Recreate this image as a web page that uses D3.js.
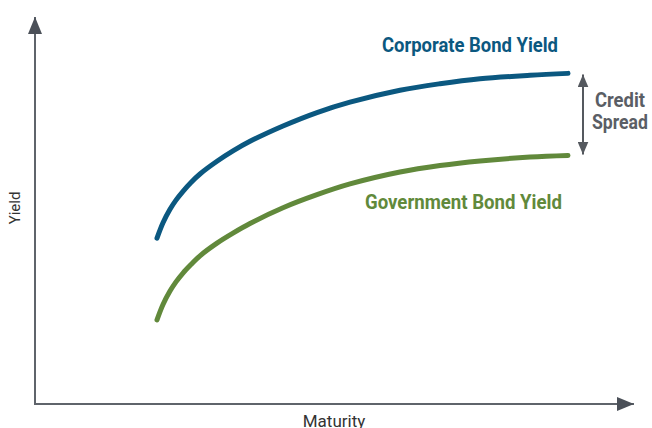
<!DOCTYPE html>
<html lang="en">
<head>
<meta charset="UTF-8">
<title>Credit Spread</title>
<script src="https://d3js.org/d3.v7.min.js"></script>
<style>
    body { margin: 0; background: white; }
    svg { display: block; font-family: Roboto, "Noto Sans", sans-serif; }
    .axis path { stroke: #5f646b; stroke-width: 2; }
    .lbl { font-weight: 700; }
</style>
</head>
<body>
<div id="chart"></div>
<script>
    // maturity (years) and yields (%)
    const maturity = [6.10, 6.40, 6.75, 7.05, 7.40, 7.80, 8.25, 9.10, 9.90, 10.75,
                      12.40, 14.10, 15.75, 18.25, 20.25, 22.25, 24.75, 26.65];
    const corporateYield = [4.32, 4.72, 5.07, 5.31, 5.54, 5.77, 5.99, 6.32, 6.59, 6.84,
                            7.24, 7.59, 7.86, 8.17, 8.34, 8.47, 8.56, 8.61];
    const governmentYield = [2.19, 2.59, 2.94, 3.18, 3.41, 3.63, 3.86, 4.19, 4.45, 4.70,
                             5.11, 5.45, 5.73, 6.04, 6.21, 6.33, 6.43, 6.47];
    const seriesNames = ['Corporate Bond Yield', 'Government Bond Yield'];
    const axisTitles = ['Maturity', 'Yield'];

    const width = 652, height = 428;
    const x = d3.scaleLinear().domain([0, 30]).range([35, 635]);
    const y = d3.scaleLinear().domain([0, 10]).range([404, 20]);

    const svg = d3.select('#chart').append('svg')
        .attr('width', width).attr('height', height);

    const defs = svg.append('defs');
    function arrow(id, color, w, h) {
        defs.append('marker')
            .attr('id', id)
            .attr('viewBox', `0 0 ${h} ${w}`)
            .attr('refX', h).attr('refY', w / 2)
            .attr('markerWidth', h).attr('markerHeight', w)
            .attr('markerUnits', 'userSpaceOnUse')
            .attr('orient', 'auto-start-reverse')
            .append('path')
            .attr('d', `M0,0L${h},${w / 2}L0,${w}Z`)
            .attr('fill', color);
    }
    arrow('axisArrow', '#4b5058', 14, 17);
    arrow('spreadArrow', '#55595f', 11, 13);

    // axes without ticks
    const xAxis = svg.append('g').attr('class', 'axis')
        .attr('transform', `translate(0,${y(0)})`)
        .call(d3.axisBottom(x).ticks(0).tickSizeOuter(0));
    xAxis.select('.domain').attr('marker-end', 'url(#axisArrow)')
        .attr('d', `M${x(0)},0H${x(29.95)}`);

    const yAxis = svg.append('g').attr('class', 'axis')
        .attr('transform', `translate(${x(0)},0)`)
        .call(d3.axisLeft(y).ticks(0).tickSizeOuter(0));
    yAxis.select('.domain').attr('marker-end', 'url(#axisArrow)')
        .attr('d', `M0,${y(0) + 1}V${y(10.08)}`);

    svg.append('text')
        .attr('x', 334).attr('y', 427)
        .attr('text-anchor', 'middle')
        .attr('font-size', 17).attr('fill', '#333')
        .text(axisTitles[0]);
    svg.append('text')
        .attr('transform', 'translate(20,208) rotate(-90)')
        .attr('text-anchor', 'middle')
        .attr('font-size', 15).attr('fill', '#333')
        .text(axisTitles[1]);

    // yield curves
    const line = d3.line()
        .x((d, i) => x(maturity[i]))
        .y(d => y(d))
        .curve(d3.curveCatmullRom.alpha(0.5));

    svg.append('path').datum(corporateYield)
        .attr('d', line).attr('fill', 'none')
        .attr('stroke', '#0b5880').attr('stroke-width', 5)
        .attr('stroke-linecap', 'round');
    svg.append('path').datum(governmentYield)
        .attr('d', line).attr('fill', 'none')
        .attr('stroke', '#61893b').attr('stroke-width', 5)
        .attr('stroke-linecap', 'round');

    svg.append('text').attr('class', 'lbl')
        .attr('x', 382).attr('y', 52)
        .attr('font-size', 20).attr('fill', '#0b5880')
        .attr('textLength', 176).attr('lengthAdjust', 'spacingAndGlyphs')
        .text(seriesNames[0]);
    svg.append('text').attr('class', 'lbl')
        .attr('x', 365).attr('y', 209)
        .attr('font-size', 20).attr('fill', '#61893b')
        .attr('textLength', 197).attr('lengthAdjust', 'spacingAndGlyphs')
        .text(seriesNames[1]);

    // credit spread double arrow between curve ends
    const last = maturity.length - 1;
    const ax = 583;
    svg.append('line')
        .attr('x1', ax).attr('x2', ax)
        .attr('y1', y(corporateYield[last]) + 1)
        .attr('y2', y(governmentYield[last]) - 1)
        .attr('stroke', '#55595f').attr('stroke-width', 2)
        .attr('marker-start', 'url(#spreadArrow)')
        .attr('marker-end', 'url(#spreadArrow)');

    const spread = svg.append('text').attr('class', 'lbl')
        .attr('text-anchor', 'middle').attr('font-size', 20)
        .attr('fill', '#5a5e65');
    spread.append('tspan').attr('x', 620).attr('y', 107)
        .attr('textLength', 50).attr('lengthAdjust', 'spacingAndGlyphs').text('Credit');
    spread.append('tspan').attr('x', 620).attr('y', 129)
        .attr('textLength', 56).attr('lengthAdjust', 'spacingAndGlyphs').text('Spread');
</script>
</body>
</html>
